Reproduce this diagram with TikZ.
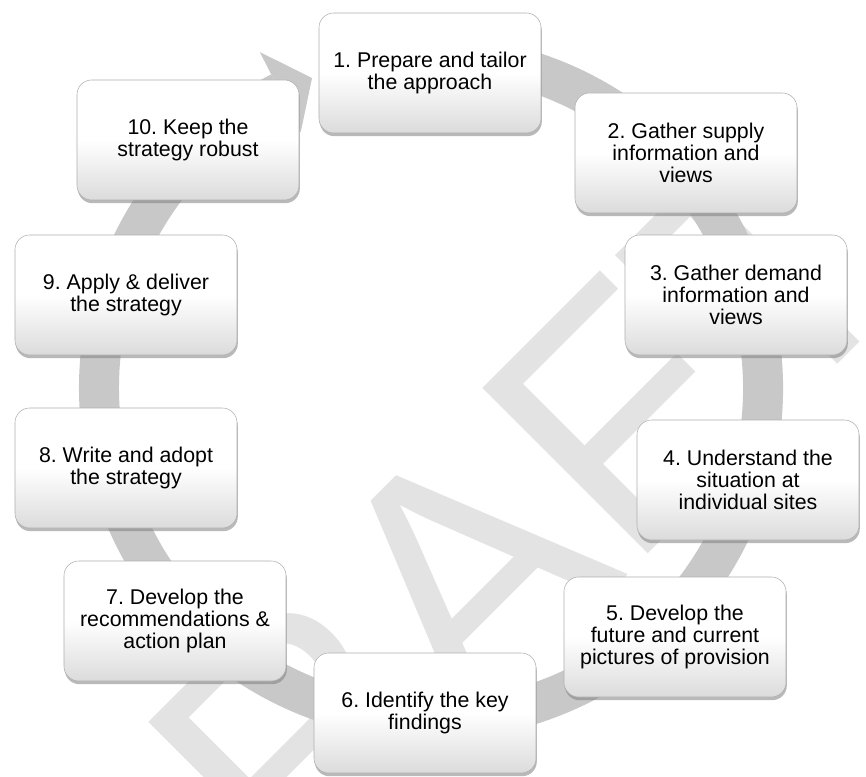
\documentclass[tikz,border=0pt]{standalone}
\usepackage{fontspec}
\setmainfont{Liberation Sans}
\usetikzlibrary{shadows}

\definecolor{ringgray}{RGB}{200,200,200}
\definecolor{markgray}{RGB}{227,227,227}
\definecolor{edgegray}{RGB}{175,175,175}

\begin{document}
\frenchspacing
\begin{tikzpicture}[x=0.75pt, y=0.75pt,
  stage/.style={rectangle, rounded corners=11pt, minimum width=166.5pt, minimum height=90pt,
    inner sep=0pt, draw=edgegray, line width=0.4pt,
    top color=white, bottom color=black!14, middle color=white,
    drop shadow={shadow xshift=0.6pt, shadow yshift=-2.4pt, fill=black!50, opacity=0.55},
    align=center, font=\fontsize{16}{16.3}\selectfont}]
  \useasboundingbox (0,0) rectangle (866,776);
  \fill[white] (0,0) rectangle (866,776);
  % watermark
  \begin{scope}
    \clip (0,0) rectangle (866,776);
    \node[rotate=45, text=markgray, inner sep=0pt, font=\fontsize{255}{255}\selectfont] (mark) at (439,178) {DRAFT};
  \end{scope}
  % ring with arrow head
  \begin{scope}[shift={(431,388)}]
    \draw[ringgray, line width=30pt] (100:332) arc[start angle=100, end angle=-243, radius=332];
    \fill[ringgray] (117:377) -- (111:332) -- (117:287) -- cycle;
  \end{scope}
  % stages
  \node[stage] (S1) at (430,703) {1. Prepare and tailor\\the approach};
  \node[stage] (S2) at (686,623) {2. Gather supply\\information and\\views};
  \node[stage] (S3) at (736,481) {3. Gather demand\\information and\\views};
  \node[stage] (S4) at (748,296) {4. Understand the\\situation at\\individual sites};
  \node[stage] (S5) at (675,139) {5. Develop the\\future and current\\pictures of provision};
  \node[stage] (S6) at (425,63) {6. Identify the key\\findings};
  \node[stage] (S7) at (175,155) {7. Develop the\\recommendations \&\\action plan};
  \node[stage] (S8) at (126,308) {8. Write and adopt\\the strategy};
  \node[stage] (S9) at (126,481) {9. Apply \& deliver\\the strategy};
  \node[stage] (S10) at (188,636) {10. Keep the\\strategy robust};
\end{tikzpicture}
\end{document}
